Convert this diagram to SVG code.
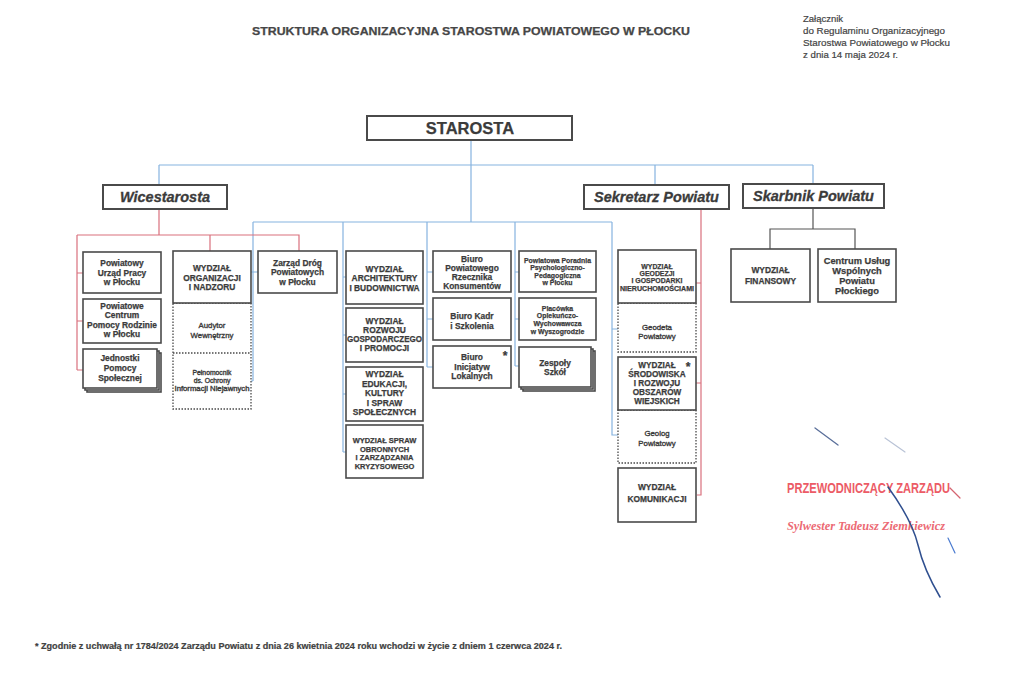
<svg xmlns="http://www.w3.org/2000/svg" width="1024" height="680" viewBox="0 0 1024 680">
<style>
.bx{fill:#fff;stroke:#4a4a4a;stroke-width:1.6}
.dt{fill:#fff;stroke:#4a4a4a;stroke-width:1.3;stroke-dasharray:1.5 1.5}
.t{font-family:"Liberation Sans",Arial,sans-serif;font-weight:bold;fill:#3b3b3b;stroke:#3b3b3b;stroke-width:0.25;text-anchor:middle;font-size:8.4px}
.s7{font-size:7.5px}
.s6{font-size:6.9px}
.r{font-weight:normal;font-size:7.8px;stroke-width:0.35}
.h2{font-size:14.5px;font-style:italic;stroke-width:0.3}
.bl{stroke:#86b3df;stroke-width:1.2;fill:none}
.rd{stroke:#d9707d;stroke-width:1.2;fill:none}
.plain{font-family:"Liberation Sans",Arial,sans-serif;fill:#444}
</style>
<rect width="1024" height="680" fill="#fff"/>

<text class="t" x="471" y="35" style="font-size:11.5px;fill:#464646;stroke:#464646" textLength="438" lengthAdjust="spacingAndGlyphs">STRUKTURA ORGANIZACYJNA STAROSTWA POWIATOWEGO W PŁOCKU</text>
<g class="plain" font-size="9.5" stroke="#444" stroke-width="0.2">
<text x="803" y="22">Załącznik</text>
<text x="803" y="34" textLength="142" lengthAdjust="spacingAndGlyphs">do Regulaminu Organizacyjnego</text>
<text x="803" y="46" textLength="147" lengthAdjust="spacingAndGlyphs">Starostwa Powiatowego w Płocku</text>
<text x="803" y="58" textLength="95" lengthAdjust="spacingAndGlyphs">z dnia 14 maja 2024 r.</text>
</g>

<g id="connectors">
<path class="bl" d="M471,140V222M159,165H813M159,165V185M655,165V185M813,165V184M253,222H612"/>
<path class="bl" d="M253,222V381M250,272H258M251,381H253"/>
<path class="bl" d="M343,222V452M343,277H346M343,335H346M343,394H346M343,452H346"/>
<path class="bl" d="M427,222V367M427,272H433M427,319H433M427,367H433"/>
<path class="bl" d="M515,222V366M515,272H519M515,319H519M515,366H519"/>
<path class="bl" d="M612,222V435H618M612,329H618"/>
<path class="rd" d="M159,209V235M77,235H299V251M210,235V251M77,235V370M77,273H83M77,321H83M77,370H83"/>
<path class="rd" d="M701,209V495H697M701,283H696M701,383H696"/>
<path d="M813,208V229M770,249V229H855V249" fill="none" stroke="#555" stroke-width="1.2"/>
</g>

<g id="starosta">
<rect class="bx" x="367" y="116" width="205" height="24" style="stroke-width:2"/>
<text class="t" x="470" y="134" style="font-size:16.5px">STAROSTA</text>
</g>
<g id="wicestarosta">
<rect class="bx" x="103" y="185" width="124" height="24" style="stroke-width:2"/>
<text class="t h2" x="165" y="202">Wicestarosta</text>
</g>
<g id="sekretarz">
<rect class="bx" x="584" y="185" width="145" height="24" style="stroke-width:2"/>
<text class="t h2" x="656.5" y="202">Sekretarz Powiatu</text>
</g>
<g id="skarbnik">
<rect class="bx" x="743" y="184" width="141" height="24" style="stroke-width:2"/>
<text class="t h2" x="813.5" y="201">Skarbnik Powiatu</text>
</g>

<g id="urzad-pracy">
<rect class="bx" x="83" y="252" width="78" height="41"/>
<text class="t" x="122" y="266">Powiatowy</text>
<text class="t" x="122" y="275.5">Urząd Pracy</text>
<text class="t" x="122" y="285">w Płocku</text>
</g>
<g id="pcpr">
<rect class="bx" x="83" y="299" width="78" height="44"/>
<text class="t" x="122" y="308.5">Powiatowe</text>
<text class="t" x="122" y="318">Centrum</text>
<text class="t" x="122" y="327.5">Pomocy Rodzinie</text>
<text class="t" x="122" y="337">w Płocku</text>
</g>
<g id="jednostki">
<rect class="bx" x="87" y="353" width="74" height="39"/>
<rect class="bx" x="85" y="351" width="74" height="39"/>
<rect class="bx" x="83" y="349" width="74" height="39"/>
<text class="t" x="120" y="361">Jednostki</text>
<text class="t" x="120" y="371">Pomocy</text>
<text class="t" x="120" y="381">Społecznej</text>
</g>

<g id="organizacji">
<rect class="dt" x="173" y="303" width="78" height="106"/>
<path class="dt" d="M173,353H251"/>
<rect class="bx" x="173" y="251" width="78" height="52"/>
<text class="t" x="212" y="271">WYDZIAŁ</text>
<text class="t" x="212" y="280.5">ORGANIZACJI</text>
<text class="t" x="212" y="290">I NADZORU</text>
</g>
<g id="audytor">
<text class="t r" x="212" y="328">Audytor</text>
<text class="t r" x="212" y="337.5">Wewnętrzny</text>
</g>
<g id="pelnomocnik">
<text class="t r" x="212" y="374.5" style="font-size:6.8px">Pełnomocnik</text>
<text class="t r" x="212" y="382.5" style="font-size:6.8px">ds. Ochrony</text>
<text class="t r" x="212" y="390.5" style="font-size:6.8px" textLength="75" lengthAdjust="spacingAndGlyphs">Informacji Niejawnych</text>
</g>

<g id="zarzad-drog">
<rect class="bx" x="258" y="251" width="79" height="42"/>
<text class="t" x="297.5" y="266">Zarząd Dróg</text>
<text class="t" x="297.5" y="275">Powiatowych</text>
<text class="t" x="297.5" y="284.5">w Płocku</text>
</g>

<g id="architektury">
<rect class="bx" x="346" y="251" width="77" height="53"/>
<text class="t" x="384.5" y="272">WYDZIAŁ</text>
<text class="t" x="384.5" y="281">ARCHITEKTURY</text>
<text class="t" x="384.5" y="290.5">I BUDOWNICTWA</text>
</g>
<g id="rozwoju">
<rect class="bx" x="346" y="308" width="77" height="54"/>
<text class="t" x="384.5" y="324">WYDZIAŁ</text>
<text class="t" x="384.5" y="333">ROZWOJU</text>
<text class="t" x="384.5" y="342" textLength="75" lengthAdjust="spacingAndGlyphs">GOSPODARCZEGO</text>
<text class="t" x="384.5" y="351">I PROMOCJI</text>
</g>
<g id="edukacji">
<rect class="bx" x="346" y="367" width="77" height="54"/>
<text class="t" x="384.5" y="377">WYDZIAŁ</text>
<text class="t" x="384.5" y="386.5">EDUKACJI,</text>
<text class="t" x="384.5" y="396">KULTURY</text>
<text class="t" x="384.5" y="405.5">I SPRAW</text>
<text class="t" x="384.5" y="415">SPOŁECZNYCH</text>
</g>
<g id="obronnych">
<rect class="bx" x="346" y="425" width="77" height="53"/>
<text class="t s7" x="384.5" y="443">WYDZIAŁ SPRAW</text>
<text class="t s7" x="384.5" y="451.5">OBRONNYCH</text>
<text class="t s7" x="384.5" y="460">I ZARZĄDZANIA</text>
<text class="t s7" x="384.5" y="468.5">KRYZYSOWEGO</text>
</g>

<g id="rzecznik">
<rect class="bx" x="433" y="251" width="78" height="41"/>
<text class="t" x="472" y="262">Biuro</text>
<text class="t" x="472" y="271">Powiatowego</text>
<text class="t" x="472" y="280">Rzecznika</text>
<text class="t" x="472" y="289">Konsumentów</text>
</g>
<g id="kadr">
<rect class="bx" x="433" y="298" width="78" height="42"/>
<text class="t" x="472" y="319">Biuro Kadr</text>
<text class="t" x="472" y="328.5">i Szkolenia</text>
</g>
<g id="inicjatyw">
<rect class="bx" x="433" y="346" width="78" height="42"/>
<text class="t" x="472" y="360">Biuro</text>
<text class="t" x="472" y="369.5">Inicjatyw</text>
<text class="t" x="472" y="379">Lokalnych</text>
<text class="t" x="505" y="360" style="font-size:12px">*</text>
</g>

<g id="poradnia">
<rect class="bx" x="519" y="251" width="77" height="41"/>
<text class="t s6" x="557.5" y="262.5">Powiatowa Poradnia</text>
<text class="t s6" x="557.5" y="270">Psychologiczno-</text>
<text class="t s6" x="557.5" y="277.5">Pedagogiczna</text>
<text class="t s6" x="557.5" y="285">w Płocku</text>
</g>
<g id="placowka">
<rect class="bx" x="519" y="298" width="77" height="42"/>
<text class="t s6" x="557.5" y="310.5">Placówka</text>
<text class="t s6" x="557.5" y="318">Opiekuńczo-</text>
<text class="t s6" x="557.5" y="326">Wychowawcza</text>
<text class="t s6" x="557.5" y="333.5">w Wyszogrodzie</text>
</g>
<g id="zespoly">
<rect class="bx" x="523" y="351" width="72" height="40"/>
<rect class="bx" x="521" y="349" width="72" height="40"/>
<rect class="bx" x="519" y="347" width="72" height="40"/>
<text class="t" x="555" y="366">Zespoły</text>
<text class="t" x="555" y="375">Szkół</text>
</g>

<g id="geodezji">
<rect class="dt" x="618" y="303" width="78" height="49"/>
<rect class="bx" x="618" y="250" width="78" height="53"/>
<text class="t s6" x="657" y="269">WYDZIAŁ</text>
<text class="t s6" x="657" y="276">GEODEZJI</text>
<text class="t s6" x="657" y="283">I GOSPODARKI</text>
<text class="t s6" x="657" y="290.5" textLength="74" lengthAdjust="spacingAndGlyphs">NIERUCHOMOŚCIAMI</text>
</g>
<g id="geodeta">
<text class="t r" x="657" y="330">Geodeta</text>
<text class="t r" x="657" y="339">Powiatowy</text>
</g>
<g id="srodowiska">
<rect class="dt" x="618" y="410" width="78" height="53"/>
<rect class="bx" x="618" y="357" width="78" height="53"/>
<text class="t" x="657" y="368" style="font-size:8.2px">WYDZIAŁ</text>
<text class="t" x="657" y="377" style="font-size:8.2px">ŚRODOWISKA</text>
<text class="t" x="657" y="386" style="font-size:8.2px">I ROZWOJU</text>
<text class="t" x="657" y="395" style="font-size:8.2px">OBSZARÓW</text>
<text class="t" x="657" y="404" style="font-size:8.2px">WIEJSKICH</text>
<text class="t" x="688" y="371" style="font-size:12px">*</text>
</g>
<g id="geolog">
<text class="t r" x="657" y="436">Geolog</text>
<text class="t r" x="657" y="446">Powiatowy</text>
</g>
<g id="komunikacji">
<rect class="bx" x="618" y="468" width="78" height="54"/>
<text class="t" x="657" y="490">WYDZIAŁ</text>
<text class="t" x="657" y="502">KOMUNIKACJI</text>
</g>

<g id="finansowy">
<rect class="bx" x="731" y="249" width="79" height="53"/>
<text class="t" x="770.5" y="273">WYDZIAŁ</text>
<text class="t" x="770.5" y="284">FINANSOWY</text>
</g>
<g id="cuw">
<rect class="bx" x="818" y="249" width="78" height="53"/>
<text class="t" x="857" y="263.5" style="font-size:9.3px">Centrum Usług</text>
<text class="t" x="857" y="273.5" style="font-size:9.3px">Wspólnych</text>
<text class="t" x="857" y="284" style="font-size:9.3px">Powiatu</text>
<text class="t" x="857" y="294" style="font-size:9.3px">Płockiego</text>
</g>

<g id="signature">
<text x="787" y="493" font-family="'Liberation Sans Narrow','Liberation Sans',Arial,sans-serif" font-weight="bold" font-size="14" fill="#ec5b66" textLength="163" lengthAdjust="spacingAndGlyphs">PRZEWODNICZĄCY ZARZĄDU</text>
<text x="787" y="530" font-family="'Liberation Serif','Times New Roman',serif" font-style="italic" font-weight="bold" font-size="12" fill="#ec6a74" textLength="158" lengthAdjust="spacingAndGlyphs">Sylwester Tadeusz Ziemkiewicz</text>
<g fill="none" stroke-linecap="round">
<path d="M815,428L838,445" stroke="#5a6f9a" stroke-width="1.3"/>
<path d="M885,438L905,452" stroke="#b9c3d6" stroke-width="1.2"/>
<path d="M888,487Q912,520 918,545T940,597" stroke="#2f4f8f" stroke-width="1.5"/>
<path d="M948,538L955,553" stroke="#4a7bd0" stroke-width="1.2"/>
<path d="M950,488L960,498" stroke="#d46470" stroke-width="1.2"/>
</g>
</g>

<text class="plain" x="35" y="649" font-size="9" font-weight="bold" fill="#333" stroke="#333" stroke-width="0.2" textLength="527" lengthAdjust="spacingAndGlyphs">* Zgodnie z uchwałą nr 1784/2024 Zarządu Powiatu z dnia 26 kwietnia 2024 roku wchodzi w życie z dniem 1 czerwca 2024 r.</text>
</svg>
